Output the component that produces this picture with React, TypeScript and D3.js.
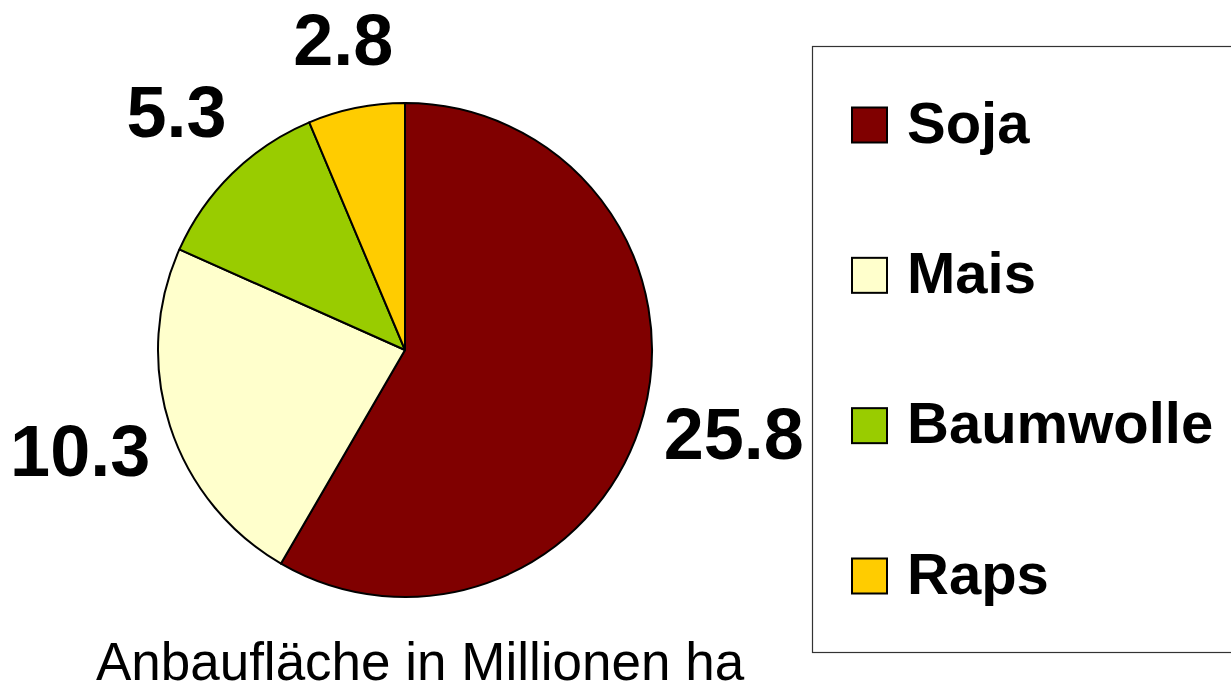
import React, { useEffect, useRef } from 'react';
import * as d3 from 'd3';

// Anbaufläche gentechnisch veränderter Pflanzen (Mio. ha)
const crops = ['Soja', 'Mais', 'Baumwolle', 'Raps'];
const areas = [25.8, 10.3, 5.3, 2.8];
const colors = ['#800000', '#FFFFCC', '#99CC00', '#FFCC00'];
const caption = 'Anbaufläche in Millionen ha';

const W = 1231;
const H = 685;

export default function App() {
  const ref = useRef<SVGSVGElement>(null);

  useEffect(() => {
    const svg = d3.select(ref.current);
    svg.selectAll('*').remove();

    const cx = 405, cy = 350, radius = 247;
    const font = "'Liberation Sans', Arial, sans-serif";

    const data = crops.map((c, i) => ({ name: c, value: areas[i], color: colors[i] }));

    const pie = d3.pie<any>().sort(null).value((d) => d.value);
    const arc = d3.arc<any>().innerRadius(0).outerRadius(radius);

    const g = svg.append('g').attr('transform', `translate(${cx},${cy})`);

    g.selectAll('path.slice')
      .data(pie(data))
      .enter()
      .append('path')
      .attr('class', 'slice')
      .attr('d', arc)
      .attr('fill', (d) => d.data.color)
      .attr('stroke', '#000')
      .attr('stroke-width', 2)
      .attr('stroke-linejoin', 'round');

    // labels outside, excel-ish: box pushed out along the mid angle
    const labelSize = 72;
    const r0 = 262;
    g.selectAll('text.lbl')
      .data(pie(data))
      .enter()
      .append('text')
      .attr('class', 'lbl')
      .attr('text-anchor', 'middle')
      .attr('font-family', font)
      .attr('font-weight', 'bold')
      .attr('font-size', labelSize)
      .attr('transform', (d) => {
        const a = (d.startAngle + d.endAngle) / 2;
        const dx = Math.sin(a), dy = -Math.cos(a);
        const txt = String(d.data.value);
        const digits = txt.replace('.', '').length;
        const w = labelSize * (digits * 0.556 + 0.278);
        const h = labelSize * 1.15;
        const push = r0 + Math.abs(dx) * w / 2 + Math.abs(dy) * h / 2;
        const x = dx * push;
        const y = dy * push + labelSize * 0.29;
        return `translate(${x},${y})`;
      })
      .text((d) => String(d.data.value));

    // legend
    const lg = svg.append('g');
    lg.append('rect')
      .attr('x', 812.5)
      .attr('y', 46.5)
      .attr('width', 430)
      .attr('height', 606)
      .attr('fill', '#fff')
      .attr('stroke', '#333')
      .attr('stroke-width', 1.2);

    const rowY = d3.scalePoint<string>().domain(crops).range([125, 576]);

    const item = lg.selectAll('g.item')
      .data(data)
      .enter()
      .append('g')
      .attr('class', 'item')
      .attr('transform', (d) => `translate(0,${rowY(d.name)})`);

    item.append('rect')
      .attr('x', 852)
      .attr('y', -17.5)
      .attr('width', 35)
      .attr('height', 35)
      .attr('fill', (d) => d.color)
      .attr('stroke', '#000')
      .attr('stroke-width', 2);

    item.append('text')
      .attr('x', 907)
      .attr('y', 17.5)
      .attr('font-family', font)
      .attr('font-weight', 'bold')
      .attr('font-size', 58)
      .attr('fill', '#000')
      .text((d) => d.name);

    svg.append('text')
      .attr('x', 420)
      .attr('y', 680)
      .attr('text-anchor', 'middle')
      .attr('font-family', font)
      .attr('font-size', 53)
      .attr('fill', '#000')
      .text(caption);
  }, []);

  return (
    <svg
      ref={ref}
      width={W}
      height={H}
      style={{ position: 'absolute', left: 0, top: 0, background: '#fff' }}
    />
  );
}
